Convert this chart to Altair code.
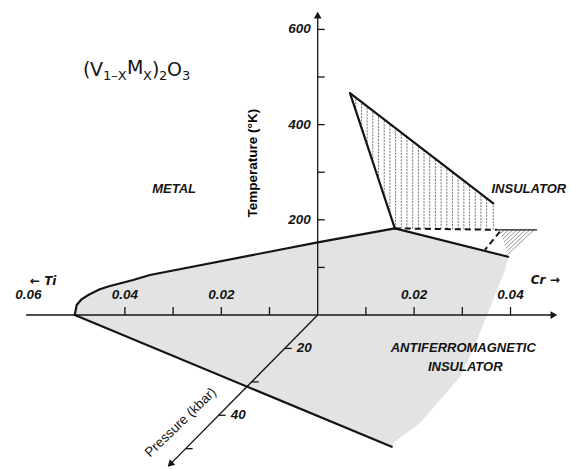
import altair as alt
import numpy as np
import pandas as pd

# ---------------- data (composition x: negative = Ti, positive = Cr; temperature in K) ----------------
# metal / antiferromagnetic-insulator boundary, from the Ti-side nose to the triple point
upper_c = [-0.0504, -0.0500, -0.0490, -0.0476, -0.0452, -0.0431, -0.0383, -0.0348, 0.0, 0.0160]
upper_T = [0, 21, 33, 42, 54, 61, 73.5, 84, 152.7, 182]
# boundary running out into the pressure plane
lower_c = [-0.0504, 0.01535]
lower_T = [0, -276.7]
# metal / insulator (AFI) boundary on the Cr side
mi_c = [0.0160, 0.0395]
mi_T = [182, 122.5]
# ragged edge of the shaded AFI region
edge_c = [0.0395, 0.03886, 0.03637, 0.03471, 0.03222, 0.02952, 0.02537, 0.02122, 0.01562, 0.01535]
edge_T = [122.5, 94.5, 31.5, -10.5, -73.5, -129.6, -178.6, -226.9, -268.9, -276.7]
# hatched metal/insulator coexistence region
crit_left_c = [0.0067, 0.0160]
crit_left_T = [466, 182]
crit_right_c = [0.0067, 0.03643]
crit_right_T = [466, 234.7]
dash_h_c = [0.0160, 0.0372]
dash_h_T = [182, 179]
dash_d_c = [0.0378, 0.0347]
dash_d_T = [175, 137]
thin_c = [0.0372, 0.0455]
thin_T = [179, 179]
# small hatched triangle (A top-left, C top-right, B bottom)
tri_c = [0.0378, 0.0455, 0.0395]
tri_T = [179, 179, 122.5]

# axes
comp_ticks = [-0.04, -0.03, -0.02, -0.01, 0.01, 0.02, 0.03, 0.04]
comp_labels_at = [-0.06, -0.04, -0.02, 0.02, 0.04]
comp_labels = ["0.06", "0.04", "0.02", "0.02", "0.04"]
temp_ticks = [100, 200, 300, 400, 500, 600]
temp_labels = [200, 400, 600]
press_ticks = [20, 30, 40, 50]
press_labels = [20, 40]
press_origin = 10        # kbar value at the origin of the oblique axis
press_dc = -0.00685      # composition shift per 10 kbar (oblique projection)
press_dT = -70.2         # temperature shift per 10 kbar (oblique projection)
press_end = 55

# annotations
region_text = ["METAL", "INSULATOR", "ANTIFERROMAGNETIC", "INSULATOR"]
region_c = [-0.0298, 0.0438, 0.0302, 0.0306]
region_T = [264, 264.7, -70, -108.6]
formula_parts = ["(", "V", "1\u2013X", "M", "X", ")", "2", "O", "3"]
formula_is_sub = [False, False, True, False, True, False, True, False, True]
formula_anchor = (-0.0487, 502)

# ---------------- scales ----------------
xs = alt.Scale(domain=[-0.06591, 0.05255], nice=False, zero=False)
ys = alt.Scale(domain=[-323.5, 661.8], nice=False, zero=False)


def X(f="c"):
    return alt.X(f"{f}:Q", scale=xs, axis=None)


def Y(f="T"):
    return alt.Y(f"{f}:Q", scale=ys, axis=None)


def X2(f="c2"):
    return alt.X2(f"{f}:Q")


def Y2(f="T2"):
    return alt.Y2(f"{f}:Q")


def line_df(segments):
    rows = []
    for k, (cs, Ts) in enumerate(segments):
        for i, (c, T) in enumerate(zip(cs, Ts)):
            rows.append(dict(seg=k, i=i, c=c, T=T))
    return pd.DataFrame(rows)


def lines(df, **kw):
    return alt.Chart(df).mark_line(**kw).encode(x=X(), y=Y(), detail="seg:N", order="i:Q")


INK = "#141414"
FONT = "Liberation Sans"

# shaded AFI region polygon
poly_c = upper_c + mi_c[1:] + edge_c[1:] + lower_c[::-1][1:]
poly_T = upper_T + mi_T[1:] + edge_T[1:] + lower_T[::-1][1:]
poly_df = pd.DataFrame({"c": poly_c, "T": poly_T, "i": range(len(poly_c))})
shade = alt.Chart(poly_df).mark_line(fill="#e3e3e3", strokeOpacity=0).encode(
    x=X(), y=Y(), order="i:Q")

# vertical hatching of the coexistence region
hc = np.append(np.arange(0.0079, 0.0362, 0.00118), crit_right_c[1])
h_top = np.interp(hc, crit_right_c, crit_right_T)
h_bot = np.interp(hc, crit_left_c + dash_h_c[1:], crit_left_T + dash_h_T[1:])
hatch_df = pd.DataFrame({"c": hc, "T": h_bot, "T2": h_top})
hatch = alt.Chart(hatch_df).mark_rule(color="#666666", strokeWidth=0.9, strokeDash=[2, 1.2]).encode(
    x=X(), y=Y(), y2=Y2())

# diagonal hatching of the small triangle (parallel to its lower-right edge)
f = np.linspace(0.12, 0.92, 8)
A, C, B = (tri_c[0], tri_T[0]), (tri_c[1], tri_T[1]), (tri_c[2], tri_T[2])
tri_df = pd.DataFrame({
    "c": A[0] + f * (B[0] - A[0]), "T": A[1] + f * (B[1] - A[1]),
    "c2": A[0] + f * (C[0] - A[0]), "T2": A[1] + f * (C[1] - A[1]),
})
tri_hatch = alt.Chart(tri_df).mark_rule(color="#777777", strokeWidth=0.8).encode(
    x=X(), y=Y(), x2=X2(), y2=Y2())

# ---------------- axes ----------------
axis_df = pd.DataFrame({
    "c": [-0.0605, 0.0, 0.0],
    "T": [0.0, 0.0, 0.0],
    "c2": [0.0490, 0.0, press_dc * (press_end - press_origin) / 10],
    "T2": [0.0, 632.0, press_dT * (press_end - press_origin) / 10],
})
axes = alt.Chart(axis_df).mark_rule(color=INK, strokeWidth=1.3).encode(
    x=X(), y=Y(), x2=X2(), y2=Y2())

arrow_r = alt.Chart(pd.DataFrame({"c": [0.0490], "T": [0.0]})).mark_point(
    shape="triangle-right", filled=True, size=60, color=INK, opacity=1).encode(x=X(), y=Y())
arrow_u = alt.Chart(pd.DataFrame({"c": [0.0], "T": [630.0]})).mark_point(
    shape="triangle-up", filled=True, size=60, color=INK, opacity=1).encode(x=X(), y=Y())
pe = (press_end - press_origin - 0.3) / 10
arrow_p = alt.Chart(pd.DataFrame({"c": [press_dc * pe], "T": [press_dT * pe]})).mark_point(
    shape="triangle-up", angle=225, filled=True, size=60, color=INK, opacity=1).encode(x=X(), y=Y())

ct = alt.Chart(pd.DataFrame({"c": comp_ticks, "T": [0.0] * len(comp_ticks)})).mark_tick(
    orient="vertical", size=8, thickness=1.3, color=INK, yOffset=-4, opacity=1).encode(x=X(), y=Y())
tt = alt.Chart(pd.DataFrame({"c": [0.0] * len(temp_ticks), "T": temp_ticks})).mark_tick(
    orient="horizontal", size=7, thickness=1.3, color=INK, xOffset=3.5, opacity=1).encode(x=X(), y=Y())
pk = (np.array(press_ticks) - press_origin) / 10
pt = alt.Chart(pd.DataFrame({"c": press_dc * pk, "T": press_dT * pk})).mark_tick(
    orient="horizontal", size=7, thickness=1.3, color=INK, xOffset=3.5, opacity=1).encode(x=X(), y=Y())

cl = alt.Chart(pd.DataFrame({"c": comp_labels_at, "T": [0.0] * 5, "t": comp_labels})).mark_text(
    font=FONT, fontSize=13.5, fontWeight="bold", fontStyle="italic", color=INK, dy=-20, baseline="middle").encode(
    x=X(), y=Y(), text="t:N")
tl = alt.Chart(pd.DataFrame({"c": [0.0] * 3, "T": temp_labels, "t": [str(v) for v in temp_labels]})).mark_text(
    font=FONT, fontSize=13.5, fontWeight="bold", fontStyle="italic", color=INK, dx=-7, align="right",
    baseline="middle").encode(x=X(), y=Y(), text="t:N")
plk = (np.array(press_labels) - press_origin) / 10
pl = alt.Chart(pd.DataFrame({"c": press_dc * plk, "T": press_dT * plk, "t": [str(v) for v in press_labels]})).mark_text(
    font=FONT, fontSize=13.5, fontWeight="bold", fontStyle="italic", color=INK, dx=12, align="left",
    baseline="middle").encode(x=X(), y=Y(), text="t:N")

ti = alt.Chart(pd.DataFrame({"c": [-0.05695], "T": [71.4], "t": ["\u2190 Ti"]})).mark_text(
    font="DejaVu Sans", fontSize=12, fontStyle="italic", fontWeight="bold", color=INK).encode(
    x=X(), y=Y(), text="t:N")
cr = alt.Chart(pd.DataFrame({"c": [0.0472], "T": [73.5], "t": ["Cr \u2192"]})).mark_text(
    font="DejaVu Sans", fontSize=12, fontStyle="italic", fontWeight="bold", color=INK).encode(
    x=X(), y=Y(), text="t:N")

temp_title = alt.Chart(pd.DataFrame({"c": [-0.01336], "T": [319], "t": ["Temperature (\u00b0K)"]})).mark_text(
    font=FONT, fontSize=13.5, fontWeight="bold", color="#000000", angle=270).encode(x=X(), y=Y(), text="t:N")
press_title = alt.Chart(pd.DataFrame({"c": [-0.0284], "T": [-225.8], "t": ["Pressure (kbar)"]})).mark_text(
    font=FONT, fontSize=13.5, color=INK, angle=316).encode(x=X(), y=Y(), text="t:N")

# chemical formula assembled from main-size letters and subscripts
part_dx = [0, 7, 20, 44, 60, 69, 76, 84, 99]
formula_layers = []
for txt, sub, dx in zip(formula_parts, formula_is_sub, part_dx):
    formula_layers.append(
        alt.Chart(pd.DataFrame({"c": [formula_anchor[0]], "T": [formula_anchor[1]], "t": [txt]})).mark_text(
            font="DejaVu Sans", fontSize=13 if sub else 19, color=INK, align="left", baseline="alphabetic",
            dx=dx, dy=4 if sub else (-2 if txt == "M" else 0)).encode(x=X(), y=Y(), text="t:N"))

regions = alt.Chart(pd.DataFrame({"c": region_c, "T": region_T, "t": region_text})).mark_text(
    font=FONT, fontSize=13, fontWeight="bold", fontStyle="italic", color=INK, baseline="middle").encode(
    x=X(), y=Y(), text="t:N")

# ---------------- boundaries ----------------
solid = lines(line_df([(upper_c, upper_T), (lower_c, lower_T), (mi_c, mi_T),
                       (crit_left_c, crit_left_T), (crit_right_c, crit_right_T)]),
              color=INK, strokeWidth=2.2, strokeJoin="round", strokeCap="round")
dashed = lines(line_df([(dash_h_c, dash_h_T), (dash_d_c, dash_d_T)]),
               color=INK, strokeWidth=2.0, strokeDash=[6, 4])
thin = lines(line_df([(thin_c, thin_T)]), color=INK, strokeWidth=1.3)

chart = alt.layer(
    shade, hatch, tri_hatch, axes, arrow_r, arrow_u, arrow_p, ct, tt, pt,
    solid, dashed, thin, cl, tl, pl, ti, cr, temp_title, press_title, regions, *formula_layers,
).properties(
    width=571, height=469, autosize=alt.AutoSizeParams(type="none"), padding=0,
    background="white",
).configure_view(stroke=None)

chart.save("out.html", embed_options={"renderer": "svg", "actions": False})
